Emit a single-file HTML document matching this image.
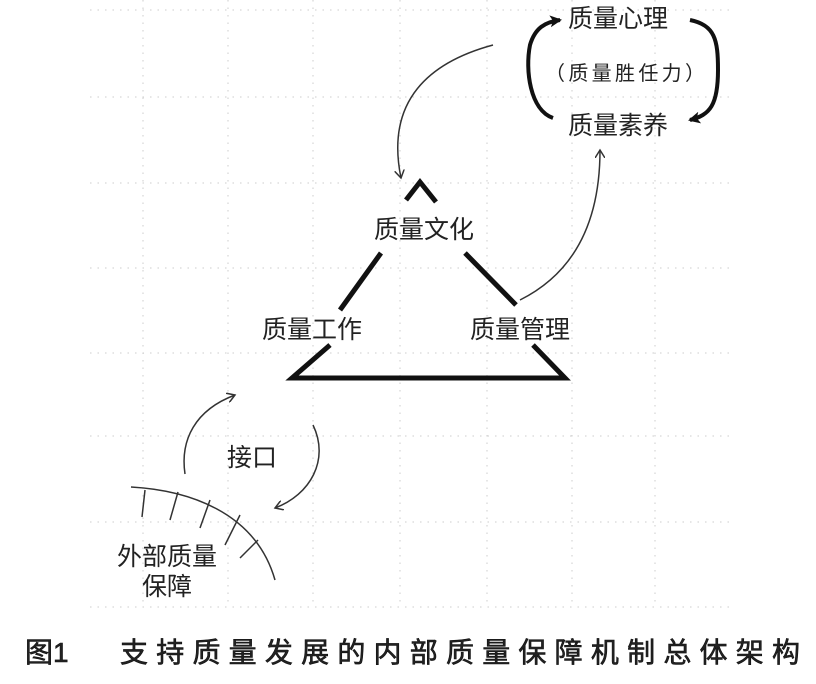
<!DOCTYPE html>
<html><head><meta charset="utf-8"><style>
body{margin:0;background:#fff;width:816px;height:679px;overflow:hidden}
svg text{font-family:"Liberation Sans","Noto Sans CJK SC",sans-serif;fill:#222}
</style></head><body>
<svg width="816" height="679" viewBox="0 0 816 679" xmlns="http://www.w3.org/2000/svg">
<defs>
<marker id="a" markerWidth="10" markerHeight="10" refX="8" refY="5" orient="auto" markerUnits="userSpaceOnUse"><path d="M0,0 L8,5 L0,10" fill="none" stroke="#333" stroke-width="1.5"/></marker>
<marker id="b" markerWidth="14" markerHeight="14" refX="10" refY="7" orient="auto" markerUnits="userSpaceOnUse"><path d="M0,1 L12,7 L0,13 L3,7Z" fill="#111"/></marker>
</defs>
<g stroke="#ccc" stroke-width="1" stroke-dasharray="1.5,6">
<line x1="90" y1="10" x2="735" y2="10"/><line x1="90" y1="97" x2="735" y2="97"/>
<line x1="90" y1="183" x2="735" y2="183"/><line x1="90" y1="268" x2="735" y2="268"/>
<line x1="90" y1="353" x2="735" y2="353"/><line x1="90" y1="436" x2="735" y2="436"/>
<line x1="90" y1="522" x2="735" y2="522"/><line x1="90" y1="607" x2="735" y2="607"/>
<line x1="143" y1="0" x2="143" y2="607"/><line x1="228" y1="0" x2="228" y2="607"/>
<line x1="313" y1="0" x2="313" y2="607"/><line x1="400" y1="0" x2="400" y2="607"/>
<line x1="487" y1="0" x2="487" y2="607"/><line x1="572" y1="0" x2="572" y2="607"/>
<line x1="655" y1="0" x2="655" y2="607"/>
</g>
<g stroke="#111" stroke-width="5" fill="none" stroke-linejoin="miter">
<polyline points="406,200 420,182 436,202"/>
<line x1="381" y1="253" x2="340" y2="310"/>
<line x1="465" y1="253" x2="516" y2="305"/>
<polyline points="330,345 292,378 565,378 533,345"/>
</g>
<g fill="none" stroke="#111" stroke-width="4">
<path d="M553,118 C530,110 525,70 530,45 C535,28 545,22 560,20" marker-end="url(#b)"/>
<path d="M690,20 C715,25 718,40 718,70 C718,105 710,115 690,120" marker-end="url(#b)"/>
</g>
<g fill="none" stroke="#333" stroke-width="1.5">
<path d="M493,45 C430,62 385,100 401,178" marker-end="url(#a)"/>
<path d="M520,300 C560,280 600,240 600,150" marker-end="url(#a)"/>
<path d="M185,474 C180,440 195,410 235,395" marker-end="url(#a)"/>
<path d="M313,425 C330,460 310,495 275,508" marker-end="url(#a)"/>
<path d="M131,487 C185,490 255,510 275,580"/>
<path d="M145,490 L142,517 M178,492 L170,520 M210,500 L200,528 M240,515 L225,545 M258,540 L240,558"/>
</g>
<text x="618" y="27" font-size="25" text-anchor="middle">质量心理</text>
<text x="545" y="80" font-size="20" textLength="160">（质量胜任力）</text>
<text x="618" y="134" font-size="25" text-anchor="middle">质量素养</text>
<text x="424" y="238" font-size="25" text-anchor="middle">质量文化</text>
<text x="312" y="338" font-size="25" text-anchor="middle">质量工作</text>
<text x="520" y="338" font-size="25" text-anchor="middle">质量管理</text>
<text x="252" y="466" font-size="25" text-anchor="middle">接口</text>
<text x="167" y="565" font-size="25" text-anchor="middle">外部质量</text>
<text x="167" y="595" font-size="25" text-anchor="middle">保障</text>
<text x="25" y="662" font-size="28" fill="#111" stroke="#111" stroke-width="0.6">图1</text>
<text x="120" y="662" font-size="28" fill="#111" stroke="#111" stroke-width="0.6" textLength="680">支持质量发展的内部质量保障机制总体架构</text>
</svg>
</body></html>
